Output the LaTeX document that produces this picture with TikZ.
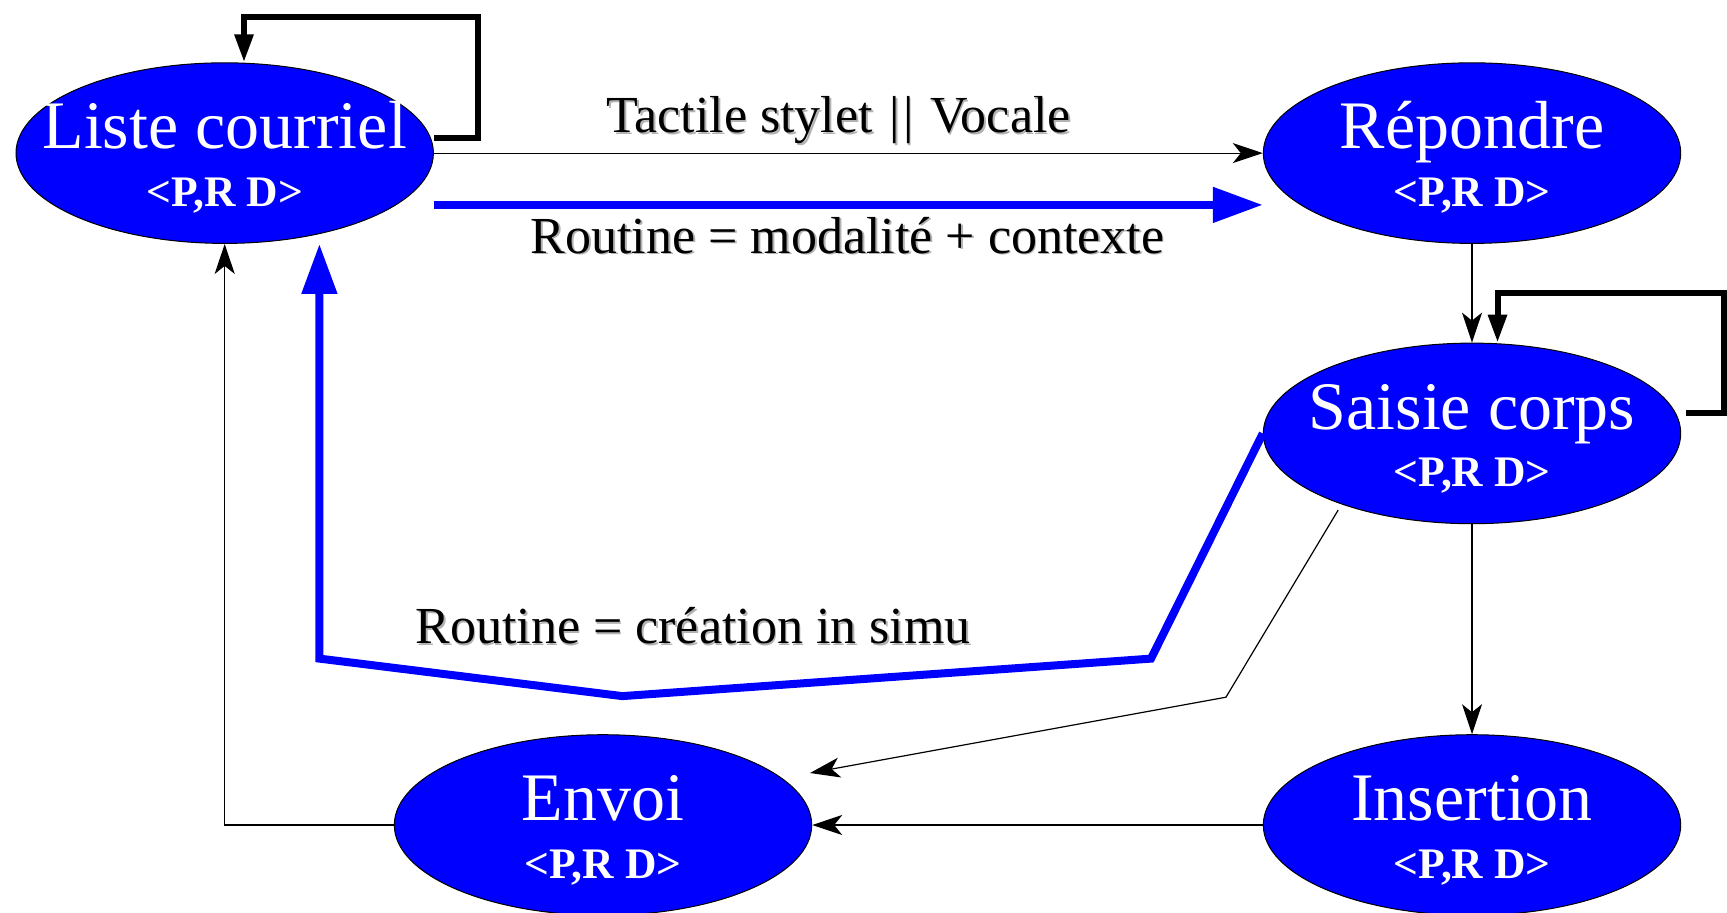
\documentclass[tikz,border=0pt]{standalone}
\usepackage{fontspec}
\setmainfont{Liberation Serif}
\usetikzlibrary{arrows.meta,shapes.geometric}

% two-line state label: name above, bold tag below, both centred on the node centre
\newcommand\statelabel[2]{%
  \makebox[0pt]{\raisebox{2.2pt}[0pt][0pt]{\fontsize{34}{34}\selectfont #1}}%
  \makebox[0pt]{\raisebox{-26.5pt}[0pt][0pt]{\fontsize{21.8}{21.8}\selectfont\bfseries #2}}}
% edge label with a light drop shadow
\newcommand\edgetext[1]{%
  \makebox[0pt][l]{\hspace{0.9pt}\raisebox{-0.9pt}{\textcolor{black!30}{#1}}}#1}

\tikzset{
  stnode/.style={ellipse, draw=black, line width=0.5pt, fill=blue, text=white,
    minimum width=208.7pt, minimum height=90.3pt, inner sep=0pt},
  thinarrow/.style={line width=0.6pt, -{Stealth[length=15pt,width=10pt,inset=4pt]}},
  selfloop/.style={line width=3pt, -{Triangle[length=14pt,width=9pt]}},
  routine/.style={draw=blue, line width=4pt, -{Triangle[length=25pt,width=17pt]}},
  elabel/.style={font=\fontsize{26}{26}\selectfont, inner sep=0pt, anchor=base},
}

\begin{document}
\begin{tikzpicture}[x=0.5pt, y=-0.5pt]
\useasboundingbox (0,0) rectangle (1727,912);
\fill[white] (0,0) rectangle (1727,912);

% states
\node[stnode] (lc) at (224.7,153.1) {\statelabel{Liste courriel}{<P,R D>}};
\node[stnode] (rp) at (1472,153.1) {\statelabel{Répondre}{<P,R D>}};
\node[stnode] (sc) at (1472,433.4) {\statelabel{Saisie corps}{<P,R D>}};
\node[stnode] (en) at (603,825) {\statelabel{Envoi}{<P,R D>}};
\node[stnode] (in) at (1472,825) {\statelabel{Insertion}{<P,R D>}};

% bends
\coordinate (lcloop) at (478,16.7);
\coordinate (scloop) at (1724,293.3);
\coordinate (sbend) at (1225.9,697.2);
\coordinate (b1) at (1151,658.6);
\coordinate (b2) at (622.3,696.1);
\coordinate (b3) at (319.4,658.6);

% self loops
\draw[selfloop] ([shift={(0,-15.4)}]lc.east) -| (lcloop) -| ([shift={(19.3,0)}]lc.north);
\draw[selfloop] ([shift={(5,-20)}]sc.east) -| (scloop) -| ([shift={(25.5,0)}]sc.north);

% thin transitions
\draw[thinarrow] (lc.east) -- (rp.west);
\draw[thinarrow] (rp) -- (sc);
\draw[thinarrow] (sc) -- (in);
\draw[thinarrow] (in.west) -- (en.east);
\draw[thinarrow] ([shift={(-133.8,76.6)}]sc.center) -- (sbend) -- ([shift={(207,-52)}]en.center);
\draw[thinarrow] (en.west) -| (lc.south);

% routines
\draw[routine] ([shift={(0,51.8)}]lc.east) -- ([shift={(0,51.8)}]rp.west);
\draw[routine] (sc.west) -- (b1) -- (b2) -- (b3) -- (b3 |- lc.south);

% labels
\node[elabel] (t1) at (838.5,132.7) {\edgetext{Tactile stylet\hspace{0.32em}|\kern0.06em|\hspace{0.32em}Vocale}};
\node[elabel] (t2) at (847.5,253) {\edgetext{Routine = modalité + contexte}};
\node[elabel] (t3) at (693,643.3) {\edgetext{Routine = création in simu}};
\end{tikzpicture}
\end{document}
